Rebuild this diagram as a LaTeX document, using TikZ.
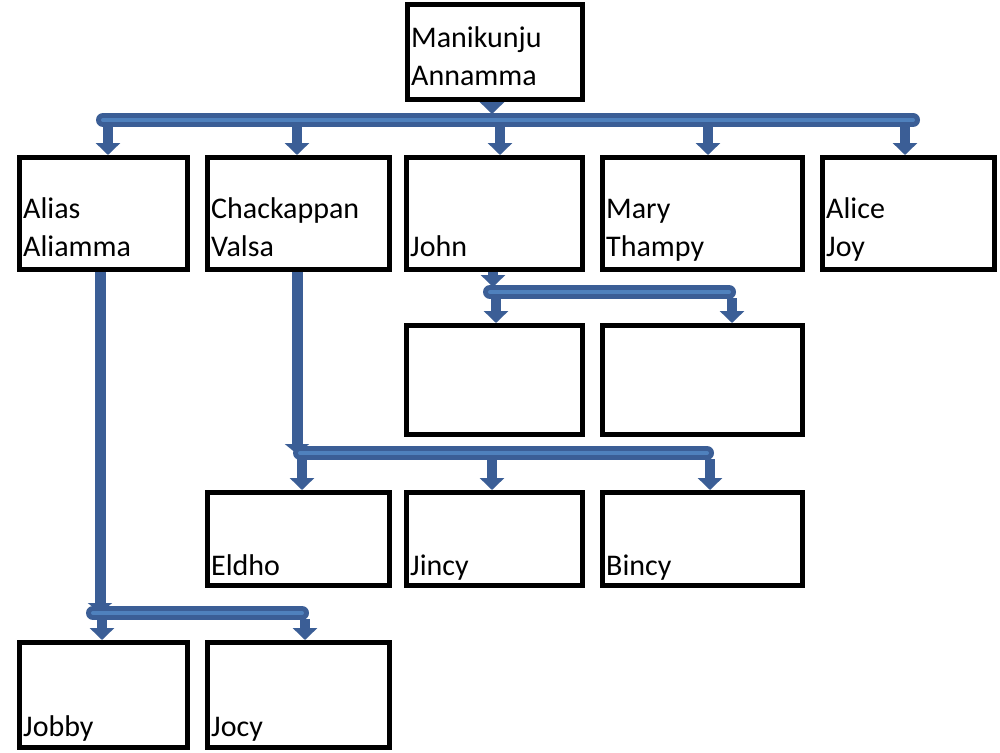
\documentclass[tikz,border=0pt]{standalone}
\usepackage{fontspec}
\setmainfont{Carlito}
\usetikzlibrary{arrows.meta}
\definecolor{blueD}{RGB}{59,94,150}
\definecolor{blueL}{RGB}{79,129,189}
\tikzset{
  person/.style={draw=black, line width=5pt, fill=white, inner sep=0pt},
  nametext/.style={anchor=base west, inner sep=0pt, align=left, font=\fontsize{30}{38}\selectfont},
  bar/.style={draw=blueD, line width=5pt, double=blueL, double distance=4pt, line cap=round},
  drop/.style={draw=blueD, line width=10pt, -{Triangle[width=24pt,length=12pt]}},
  stem/.style={draw=blueD, line width=11pt, -{Triangle[width=24pt,length=10pt]}},
}
\newcommand{\pbox}[5]{% name, x1, x2, y1, y2
  \node[person, minimum width={#3-#2-5pt}, minimum height={#5-#4-5pt}] (#1) at ({(#2+#3)/2},{(#4+#5)/2}) {};
}
\begin{document}
\begin{tikzpicture}[x=1pt,y=-1pt]
\useasboundingbox[fill=white] (0,0) rectangle (1000,752);
% boxes
\pbox{root}{405}{585}{2}{102}
\pbox{alias}{17}{190}{155}{272}
\pbox{chack}{205}{392}{155}{272}
\pbox{john}{404}{585}{155}{272}
\pbox{mary}{600}{805}{155}{272}
\pbox{alice}{820}{997}{155}{272}
\pbox{jc1}{404}{585}{323}{437}
\pbox{jc2}{600}{805}{323}{437}
\pbox{eldho}{205}{392}{490}{588}
\pbox{jincy}{404}{585}{490}{588}
\pbox{bincy}{600}{805}{490}{588}
\pbox{jobby}{17}{190}{640}{750}
\pbox{jocy}{205}{392}{640}{750}
% texts
\node[nametext] (troot) at ([shift={(6,-17)}]root.south west) {Manikunju\\Annamma};
\node[nametext] (talias) at ([shift={(6,-16)}]alias.south west) {Alias\\Aliamma};
\node[nametext] (tchack) at ([shift={(6,-16)}]chack.south west) {Chackappan\\Valsa};
\node[nametext] (tjohn) at ([shift={(6,-16)}]john.south west) {John};
\node[nametext] (tmary) at ([shift={(6,-16)}]mary.south west) {Mary\\Thampy};
\node[nametext] (talice) at ([shift={(6,-16)}]alice.south west) {Alice\\Joy};
\node[nametext] (teldho) at ([shift={(6,-13)}]eldho.south west) {Eldho};
\node[nametext] (tjincy) at ([shift={(6,-13)}]jincy.south west) {Jincy};
\node[nametext] (tbincy) at ([shift={(6,-13)}]bincy.south west) {Bincy};
\node[nametext] (tjobby) at ([shift={(6,-14)}]jobby.south west) {Jobby};
\node[nametext] (tjocy) at ([shift={(6,-14)}]jocy.south west) {Jocy};
% root family
\coordinate (rbL) at (103,120);
\coordinate (rbR) at (913,120);
\draw[bar] (rbL) -- (rbR);
\draw[drop] (root.south -| 492,0) -- (492,114);
\foreach \x/\c in {108/alias,297/chack,500/john,708/mary,905/alice}
  \draw[drop] (\x,127) -- (\c.north -| \x,0);
% john family
\coordinate (jbL) at (490,292);
\coordinate (jbR) at (729,292);
\draw[drop] (john.south -| 493,0) -- (493,287);
\draw[bar] (jbL) -- (jbR);
\draw[drop] (496,298) -- (jc1.north -| 496,0);
\draw[drop] (732,298) -- (jc2.north -| 732,0);
% chackappan family
\coordinate (cbL) at (300,453);
\coordinate (cbR) at (707,453);
\draw[stem] (chack.south -| 297,0) -- (297,454);
\draw[bar] (cbL) -- (cbR);
\draw[drop] (302,459) -- (eldho.north -| 302,0);
\draw[drop] (492,459) -- (jincy.north -| 492,0);
\draw[drop] (710,459) -- (bincy.north -| 710,0);
% alias family
\coordinate (abL) at (93,613);
\coordinate (abR) at (302,613);
\draw[stem] (alias.south -| 100,0) -- (100,613);
\draw[bar] (abL) -- (abR);
\draw[drop] (102,619) -- (jobby.north -| 102,0);
\draw[drop] (305,619) -- (jocy.north -| 305,0);
\end{tikzpicture}
\end{document}
